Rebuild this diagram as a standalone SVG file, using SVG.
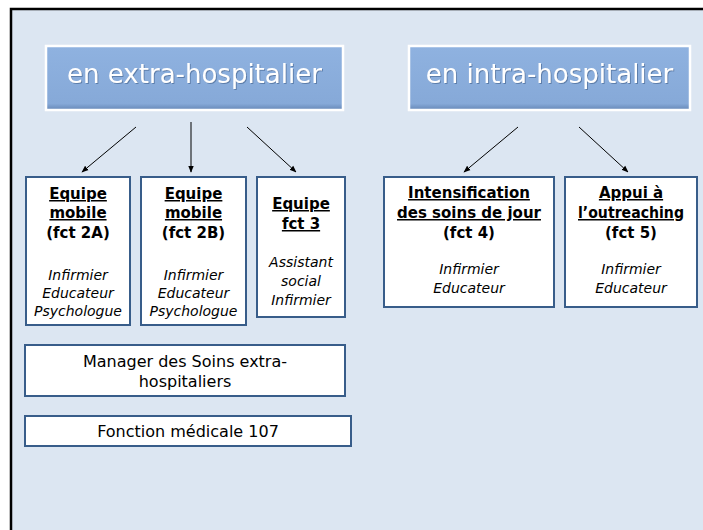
<svg xmlns="http://www.w3.org/2000/svg" width="703" height="530" viewBox="0 0 703 530">
  <defs>
    <linearGradient id="hdrFill" x1="0" y1="0" x2="0" y2="1">
      <stop offset="0" stop-color="#8fb2e0"/>
      <stop offset="0.9" stop-color="#86a9d8"/>
      <stop offset="1" stop-color="#6586b6"/>
    </linearGradient>
    <filter id="txtShadow" x="-5%" y="-20%" width="110%" height="140%">
      <feDropShadow dx="1" dy="1" stdDeviation="0.6" flood-color="#4a6a96" flood-opacity="0.7"/>
    </filter>
    <marker id="arrow" viewBox="0 0 10 10" refX="9" refY="5" markerWidth="7" markerHeight="7" orient="auto" markerUnits="userSpaceOnUse">
      <path d="M0,1 L10,5 L0,9 z" fill="#000"/>
    </marker>
  </defs>
  <style>
    .hdr { fill: url(#hdrFill); stroke: #ffffff; stroke-width: 2.5; }
    .hdrText { font-family: "DejaVu Sans", "Liberation Sans", sans-serif; font-size: 26px; fill: #ffffff; text-anchor: middle; }
    .box { fill: #ffffff; stroke: #385d8a; stroke-width: 2; }
    .title { font-family: "DejaVu Sans", "Liberation Sans", sans-serif; font-size: 15px; font-weight: bold; fill: #000; text-anchor: middle; }
    .ul { text-decoration: underline; }
    .staff { font-family: "DejaVu Sans", "Liberation Sans", sans-serif; font-size: 14px; font-style: italic; fill: #000; text-anchor: middle; }
    .plain { font-family: "DejaVu Sans", "Liberation Sans", sans-serif; font-size: 16px; fill: #000; text-anchor: middle; }
    .conn { stroke: #000; stroke-width: 1; fill: none; marker-end: url(#arrow); }
  </style>

  <!-- page and framed panel -->
  <rect x="0" y="0" width="703" height="530" fill="#ffffff"/>
  <rect x="12" y="10" width="691" height="520" fill="#dce6f2"/>
  <path d="M11,530 L11,9 L703,9" fill="none" stroke="#000" stroke-width="2.5"/>

  <!-- header: extra-hospital -->
  <g id="hdr-extra">
    <rect class="hdr" x="46" y="46" width="297" height="64"/>
    <text class="hdrText" x="194.5" y="83" filter="url(#txtShadow)">en extra-hospitalier</text>
  </g>

  <!-- header: intra-hospital -->
  <g id="hdr-intra">
    <rect class="hdr" x="409" y="46" width="281" height="64"/>
    <text class="hdrText" x="549.5" y="83" filter="url(#txtShadow)">en intra-hospitalier</text>
  </g>

  <!-- connectors -->
  <g id="connectors">
    <line class="conn" x1="136" y1="127" x2="82" y2="172"/>
    <line class="conn" x1="191" y1="122" x2="191" y2="172"/>
    <line class="conn" x1="247" y1="127" x2="296" y2="172"/>
    <line class="conn" x1="518" y1="127" x2="464" y2="172"/>
    <line class="conn" x1="579" y1="127" x2="628" y2="172"/>
  </g>

  <!-- mobile team 2A -->
  <g id="team-2a">
    <rect class="box" x="26" y="177" width="104" height="148"/>
    <text class="title ul" x="78" y="199">Equipe</text>
    <text class="title ul" x="78" y="218">mobile</text>
    <text class="title" x="78" y="238">(fct 2A)</text>
    <text class="staff" x="78" y="280">Infirmier</text>
    <text class="staff" x="78" y="298">Educateur</text>
    <text class="staff" x="78" y="316">Psychologue</text>
  </g>

  <!-- mobile team 2B -->
  <g id="team-2b">
    <rect class="box" x="141" y="177" width="105" height="148"/>
    <text class="title ul" x="193.5" y="199">Equipe</text>
    <text class="title ul" x="193.5" y="218">mobile</text>
    <text class="title" x="193.5" y="238">(fct 2B)</text>
    <text class="staff" x="193.5" y="280">Infirmier</text>
    <text class="staff" x="193.5" y="298">Educateur</text>
    <text class="staff" x="193.5" y="316">Psychologue</text>
  </g>

  <!-- team function 3 -->
  <g id="team-3">
    <rect class="box" x="257" y="177" width="88" height="140"/>
    <text class="title ul" x="301" y="209">Equipe</text>
    <text class="title ul" x="301" y="229">fct 3</text>
    <text class="staff" x="301" y="267">Assistant</text>
    <text class="staff" x="301" y="286">social</text>
    <text class="staff" x="301" y="305">Infirmier</text>
  </g>

  <!-- day care intensification -->
  <g id="fct-4">
    <rect class="box" x="384" y="177" width="170" height="130"/>
    <text class="title ul" x="469" y="198">Intensification</text>
    <text class="title ul" x="469" y="218">des soins de jour</text>
    <text class="title" x="469" y="238">(fct 4)</text>
    <text class="staff" x="469" y="274">Infirmier</text>
    <text class="staff" x="469" y="293">Educateur</text>
  </g>

  <!-- outreaching support -->
  <g id="fct-5">
    <rect class="box" x="565" y="177" width="132" height="130"/>
    <text class="title ul" x="631" y="198">Appui à</text>
    <text class="title ul" x="631" y="218" textLength="106" lengthAdjust="spacingAndGlyphs">l’outreaching</text>
    <text class="title" x="631" y="238">(fct 5)</text>
    <text class="staff" x="631" y="274">Infirmier</text>
    <text class="staff" x="631" y="293">Educateur</text>
  </g>

  <!-- care manager -->
  <g id="manager">
    <rect class="box" x="25" y="345" width="320" height="51"/>
    <text class="plain" x="185" y="367">Manager des Soins extra-</text>
    <text class="plain" x="185" y="387">hospitaliers</text>
  </g>

  <!-- medical function -->
  <g id="medical">
    <rect class="box" x="25" y="416" width="326" height="30"/>
    <text class="plain" x="188" y="437">Fonction médicale 107</text>
  </g>
</svg>
